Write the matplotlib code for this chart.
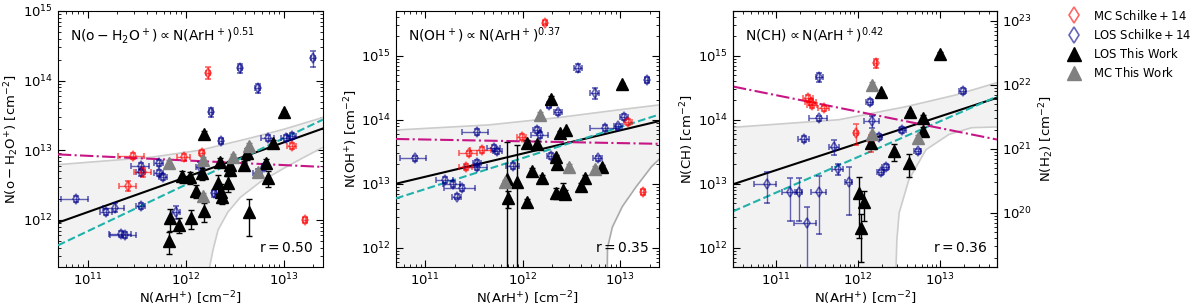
import numpy as np
import matplotlib
matplotlib.use('Agg')
import matplotlib.pyplot as plt
from matplotlib.lines import Line2D
from matplotlib.ticker import NullFormatter

# ---------------- panel 1: o-H2O+ ----------------
# diamonds: N(ArH+), N(X), frac. x err, frac. y err
h2o_los_schilke = [
    (7.7e10, 2.0e12, 0.30, 0.10), (1.56e11, 1.3e12, 0.15, 0.10),
    (1.9e11, 1.5e12, 0.25, 0.15), (2.2e11, 6.2e11, 0.25, 0.10),
    (2.4e11, 6.0e11, 0.30, 0.10), (3.5e11, 1.6e12, 0.10, 0.10),
    (3.5e11, 5.9e12, 0.20, 0.10), (3.5e11, 4.8e12, 0.10, 0.10),
    (5.3e11, 6.5e12, 0.10, 0.10), (5.3e11, 4.7e12, 0.10, 0.10),
    (5.9e11, 4.1e12, 0.10, 0.10), (8.0e11, 1.3e12, 0.10, 0.20),
    (1.8e12, 3.5e13, 0.05, 0.15), (2.3e12, 1.35e13, 0.05, 0.10),
    (1.95e12, 2.4e12, 0.05, 0.10), (1.4e12, 5.7e12, 0.10, 0.20),
    (3.6e12, 1.5e14, 0.05, 0.15), (5.4e12, 7.7e13, 0.05, 0.15),
    (6.9e12, 1.5e13, 0.15, 0.10), (5.4e12, 4.7e12, 0.10, 0.15),
    (6.3e12, 5.7e12, 0.05, 0.10), (1.05e13, 1.5e13, 0.10, 0.10),
    (1.2e13, 1.6e13, 0.10, 0.10), (2.0e13, 2.1e14, 0.05, 0.25),
]
h2o_mc_schilke = [
    (2.6e11, 3.1e12, 0.20, 0.15), (2.9e11, 8.2e12, 0.30, 0.10),
    (3.7e11, 4.9e12, 0.20, 0.15), (9.6e11, 7.9e12, 0.15, 0.10),
    (1.45e12, 9.1e12, 0.05, 0.10), (1.7e12, 1.3e14, 0.05, 0.20),
    (1.2e13, 1.15e13, 0.10, 0.10), (1.65e13, 1.0e12, 0.05, 0.10),
]
# triangles: N(ArH+), N(X), frac. y err
h2o_los_this = [
    (6.8e11, 5.0e11, 0.35), (7.0e11, 1.07e12, 0.35), (8.6e11, 8.5e11, 0.25),
    (9.2e11, 4.2e12, 0.20), (1.14e12, 1.07e12, 0.30), (1.1e12, 4.1e12, 0.20),
    (1.26e12, 2.6e12, 0.20), (1.55e12, 1.35e12, 0.30), (1.55e12, 1.7e13, 0.10),
    (1.45e12, 4.7e12, 0.20), (2.25e12, 6.7e12, 0.15), (2.15e12, 3.4e12, 0.30),
    (2.3e12, 2.5e12, 0.30), (2.35e12, 2.1e12, 0.20), (2.7e12, 3.4e12, 0.25),
    (2.85e12, 6.1e12, 0.15), (2.85e12, 5.2e12, 0.15), (3.9e12, 6.1e12, 0.15),
    (4.2e12, 9.0e12, 0.20), (4.4e12, 1.3e12, 0.55), (6.9e12, 4.0e12, 0.25),
    (7.7e12, 1.26e13, 0.10), (6.6e12, 6.5e12, 0.15), (1.0e13, 3.5e13, 0.05),
]
h2o_mc_this = [
    (6.8e11, 6.5e12, 0.10), (1.5e12, 2.2e12, 0.10), (1.5e12, 7.2e12, 0.10),
    (3.0e12, 7.9e12, 0.10), (4.4e12, 1.15e13, 0.10), (5.5e12, 4.9e12, 0.10),
]
h2o_fit_x = [5e10, 2.5e13]
h2o_fit_black = [9.1e11, 2.05e13]
h2o_fit_cyan = [4.3e11, 2.75e13]
h2o_fit_magenta = [8.7e12, 5.75e12]
h2o_band_up_x = [5e10, 4.4e11, 1.4e12, 4.6e12, 1e13, 2.5e13]
h2o_band_up_y = [6.2e12, 7.9e12, 1e13, 1.5e13, 2e13, 2.95e13]
h2o_band_lo_x = [1.66e12, 1.74e12, 1.9e12, 2.14e12, 2.7e12, 3.6e12, 5.75e12, 1e13, 1.6e13, 2.5e13]
h2o_band_lo_y = [3e10, 2e11, 3.7e11, 7.2e11, 1.3e12, 2.1e12, 3.5e12, 5.5e12, 7.9e12, 1.1e13]

# ---------------- panel 2: OH+ ----------------
oh_los_schilke = [
    (7.9e10, 2.5e13, 0.30, 0.10), (1.6e11, 1.15e13, 0.20, 0.10),
    (1.9e11, 1.0e13, 0.20, 0.10), (2.4e11, 8.7e12, 0.35, 0.10),
    (2.1e11, 6.3e12, 0.10, 0.10), (3.4e11, 6.5e13, 0.30, 0.10),
    (3.4e11, 2.1e13, 0.10, 0.10), (3.4e11, 1.8e13, 0.25, 0.10),
    (5.1e11, 3.6e13, 0.15, 0.10), (5.5e11, 3.2e13, 0.10, 0.10),
    (7.9e11, 1.9e13, 0.15, 0.10), (1.4e12, 6.9e13, 0.10, 0.10),
    (1.5e12, 5.8e13, 0.20, 0.10), (1.85e12, 1.7e14, 0.05, 0.10),
    (2.3e12, 1.3e14, 0.10, 0.10), (1.95e12, 2.7e13, 0.10, 0.10),
    (3.7e12, 6.5e14, 0.10, 0.15), (5.5e12, 2.6e14, 0.10, 0.20),
    (5.9e12, 2.5e13, 0.10, 0.10), (7.0e12, 7.5e13, 0.30, 0.10),
    (9.5e12, 7.9e13, 0.10, 0.10), (1.1e13, 1.1e14, 0.10, 0.10),
    (1.9e13, 4.2e14, 0.05, 0.10),
]
oh_mc_schilke = [
    (2.6e11, 1.85e13, 0.15, 0.10), (2.8e11, 3.0e13, 0.20, 0.10),
    (3.8e11, 3.4e13, 0.25, 0.10), (9.8e11, 5.4e13, 0.10, 0.10),
    (1.7e12, 3.3e15, 0.05, 0.10), (1.2e13, 9.3e13, 0.10, 0.10),
    (1.7e13, 7.5e12, 0.05, 0.10),
]
oh_los_this = [
    (6.9e11, 1.2e13, 2.70), (7.0e11, 6.0e12, 0.30), (8.7e11, 1.05e13, 2.80),
    (1.1e12, 5.2e12, 0.10), (1.1e12, 4.4e13, 0.10), (1.23e12, 1.6e13, 0.10),
    (1.4e12, 4.2e13, 0.10), (1.57e12, 1.24e13, 0.10), (1.95e12, 2.1e14, 0.10),
    (2.2e12, 7.2e12, 0.20), (2.2e12, 2.6e13, 0.10), (2.25e12, 2.0e13, 0.10),
    (2.4e12, 6.3e13, 0.05), (2.6e12, 8.1e12, 0.25), (2.7e12, 7.0e12, 0.15),
    (2.8e12, 6.9e13, 0.05), (4.0e12, 9.3e12, 0.10), (4.3e12, 1.24e13, 0.10),
    (6.5e12, 1.85e13, 0.05), (1.05e13, 3.6e14, 0.05),
]
oh_mc_this = [
    (1.5e12, 1.2e14, 0.10), (6.6e11, 1.05e13, 0.10),
    (2.95e12, 1.85e13, 0.10), (5.5e12, 1.7e13, 0.10),
]
oh_fit_x = [5e10, 2.5e13]
oh_fit_black = [1.0e13, 9.5e13]
oh_fit_cyan = [5.9e12, 1.2e14]
oh_fit_magenta = [5.0e13, 4.2e13]
oh_band_up_x = [5e10, 4.5e11, 2.2e12, 1.05e13, 2.5e13]
oh_band_up_y = [6.9e13, 8.3e13, 1.07e14, 1.45e14, 1.7e14]
oh_band_lo_x = [7.2e12, 7.4e12, 8.3e12, 1.05e13, 1.45e13, 2.1e13, 2.5e13]
oh_band_lo_y = [3e10, 1e12, 2.1e12, 4.4e12, 8.9e12, 1.86e13, 2.4e13]

# ---------------- panel 3: CH ----------------
ch_los_schilke = [
    (7.8e10, 1.0e13, 0.30, 0.50), (1.5e11, 7.5e12, 0.20, 0.65),
    (1.9e11, 7.5e12, 0.10, 0.65), (2.4e11, 2.4e12, 0.30, 0.80),
    (3.4e11, 7.5e12, 0.20, 0.78), (2.2e11, 5.0e13, 0.15, 0.10),
    (3.4e11, 4.6e14, 0.10, 0.15), (3.4e11, 1.05e14, 0.25, 0.10),
    (5.2e11, 3.8e13, 0.15, 0.25), (5.7e11, 1.7e13, 0.15, 0.20),
    (7.8e11, 1.07e13, 0.10, 0.70), (1.4e12, 1.9e14, 0.10, 0.10),
    (1.5e12, 9.4e13, 0.20, 0.20), (1.8e12, 5.4e13, 0.10, 0.10),
    (1.9e12, 1.5e13, 0.10, 0.10), (2.2e12, 1.85e13, 0.10, 0.10),
    (3.5e12, 6.9e13, 0.10, 0.10), (5.4e12, 3.2e13, 0.10, 0.10),
    (1.9e13, 2.8e14, 0.10, 0.10),
]
ch_mc_schilke = [
    (2.5e11, 2.2e14, 0.15, 0.10), (2.7e11, 1.9e14, 0.15, 0.10),
    (2.8e11, 1.7e14, 0.15, 0.10), (3.9e11, 1.5e14, 0.15, 0.10),
    (9.5e11, 6.3e13, 0.05, 0.35), (1.45e12, 4.5e13, 0.05, 0.30),
    (1.65e12, 7.6e14, 0.05, 0.15),
]
ch_los_this = [
    (1.05e12, 7.2e12, 0.80), (1.2e12, 5.2e12, 0.50), (1.1e12, 2.0e12, 0.70),
    (1.45e12, 4.4e13, 0.15), (1.9e12, 2.7e14, 0.05), (2.75e12, 3.2e13, 0.30),
    (4.2e12, 2.1e13, 0.40), (4.4e12, 1.3e14, 0.05), (6.2e12, 1.07e14, 0.10),
    (6.3e12, 6.7e13, 0.15), (1.0e13, 1.07e15, 0.05),
]
ch_mc_this = [
    (1.5e12, 3.5e14, 0.10), (5.5e12, 5.2e13, 0.10), (1.5e12, 5.9e13, 0.10),
]
ch_fit_x = [3e10, 5e13]
ch_fit_black = [9.8e12, 2.2e14]
ch_fit_cyan = [3.7e12, 2.3e14]
ch_fit_magenta = [3.3e14, 4.9e13]
ch_band_up_x = [3e10, 5.9e11, 3.9e12, 1.6e13, 5e13]
ch_band_up_y = [7.6e13, 1e14, 1.6e14, 2.45e14, 3.8e14]
ch_band_lo_x = [2.75e12, 3.0e12, 3.2e12, 4.2e12, 6.8e12, 1.3e13, 2.45e13, 5e13]
ch_band_lo_y = [3e10, 1.3e12, 3.5e12, 1.15e13, 3.4e13, 5.9e13, 7.5e13, 7.7e13]
ch_h2_ratio = 3.5e-8  # N(CH)/N(H2)

RED = 'red'
BLUE = 'darkblue'
FS = 9.5


def draw_diamonds(ax, rows, color):
    d = np.array(rows)
    ax.errorbar(d[:, 0], d[:, 1], xerr=d[:, 0] * d[:, 2], yerr=d[:, 1] * d[:, 3],
                fmt='d', ms=5, mfc='none', mec=color, mew=1.2, ecolor=color,
                elinewidth=1, capsize=2, alpha=0.6, zorder=4)


def draw_triangles(ax, rows, color):
    d = np.array(rows)
    ax.errorbar(d[:, 0], d[:, 1], yerr=d[:, 1] * d[:, 2], fmt='^', ms=9,
                color=color, ecolor=color, elinewidth=1, capsize=2, zorder=5)


def draw_panel(ax, xlim, ylim, up_x, up_y, lo_x, lo_y, lo_color,
               fit_x, black, cyan, magenta, los_s, mc_s, los_t, mc_t,
               text, r_text, ylabel):
    ax.set_xscale('log')
    ax.set_yscale('log')
    # confidence band
    px = list(up_x) + list(lo_x[::-1]) + [xlim[0]]
    py = list(up_y) + list(lo_y[::-1]) + [lo_y[0]]
    ax.fill(px, py, color='#f2f2f2', lw=0, zorder=1)
    ax.plot(up_x, up_y, color='#cccccc', lw=1.2, zorder=2)
    ax.plot(lo_x, lo_y, color=lo_color, lw=1.2, zorder=2)
    # fits
    ax.plot(fit_x, black, color='black', lw=1.5, zorder=3)
    ax.plot(fit_x, cyan, color='#20b2aa', lw=1.5, ls='--', zorder=3)
    ax.plot(fit_x, magenta, color='#c71585', lw=1.5, ls='-.', zorder=3)
    draw_diamonds(ax, los_s, BLUE)
    draw_diamonds(ax, mc_s, RED)
    draw_triangles(ax, los_t, 'black')
    draw_triangles(ax, mc_t, 'gray')
    ax.set_xlim(xlim)
    ax.set_ylim(ylim)
    ax.text(0.045, 0.905, text, transform=ax.transAxes, fontsize=FS + 0.5, va='center')
    ax.text(0.965, 0.075, r_text, transform=ax.transAxes, fontsize=FS + 0.5,
            ha='right', va='center')
    ax.set_xlabel(r'$\rm N(ArH^{+})\ [cm^{-2}]$', fontsize=FS, labelpad=1)
    ax.set_ylabel(ylabel, fontsize=FS, labelpad=1)
    ax.tick_params(which='both', direction='in', top=True, right=True, labelsize=FS)
    ax.tick_params(which='major', length=5)
    ax.tick_params(which='minor', length=2.5)
    ax.xaxis.set_minor_formatter(NullFormatter())
    ax.yaxis.set_minor_formatter(NullFormatter())


fig = plt.figure(figsize=(12, 3.07), dpi=100)
ax1 = fig.add_axes([0.0483, 0.1303, 0.2208, 0.834])
ax2 = fig.add_axes([0.330, 0.1303, 0.2192, 0.834])
ax3 = fig.add_axes([0.6108, 0.1303, 0.220, 0.834])

draw_panel(ax1, (5e10, 2.5e13), (2.1e11, 1e15),
           h2o_band_up_x, h2o_band_up_y, h2o_band_lo_x, h2o_band_lo_y, '#cccccc',
           h2o_fit_x, h2o_fit_black, h2o_fit_cyan, h2o_fit_magenta,
           h2o_los_schilke, h2o_mc_schilke, h2o_los_this, h2o_mc_this,
           r'$\rm N(o-H_2O^+)\propto N(ArH^+)^{0.51}$', r'$\rm r = 0.50$',
           r'$\rm N(o-H_2O^{+})\ [cm^{-2}]$')
draw_panel(ax2, (5e10, 2.5e13), (5e11, 5e15),
           oh_band_up_x, oh_band_up_y, oh_band_lo_x, oh_band_lo_y, '#aaaaaa',
           oh_fit_x, oh_fit_black, oh_fit_cyan, oh_fit_magenta,
           oh_los_schilke, oh_mc_schilke, oh_los_this, oh_mc_this,
           r'$\rm N(OH^+)\propto N(ArH^+)^{0.37}$', r'$\rm r = 0.35$',
           r'$\rm N(OH^{+})\ [cm^{-2}]$')
draw_panel(ax3, (3e10, 5e13), (5e11, 5e15),
           ch_band_up_x, ch_band_up_y, ch_band_lo_x, ch_band_lo_y, '#cccccc',
           ch_fit_x, ch_fit_black, ch_fit_cyan, ch_fit_magenta,
           ch_los_schilke, ch_mc_schilke, ch_los_this, ch_mc_this,
           r'$\rm N(CH)\propto N(ArH^+)^{0.42}$', r'$\rm r = 0.36$',
           r'$\rm N(CH)\ [cm^{-2}]$')
ax3.tick_params(which='both', right=False)

ax3r = ax3.twinx()
ax3r.set_yscale('log')
ax3r.set_ylim(np.array(ax3.get_ylim()) / ch_h2_ratio)
ax3r.tick_params(which='both', direction='in', labelsize=FS)
ax3r.tick_params(which='major', length=5)
ax3r.tick_params(which='minor', length=2.5)
ax3r.yaxis.set_minor_formatter(NullFormatter())
ax3r.set_ylabel(r'$\rm N(H_2)\ [cm^{-2}]$', fontsize=FS, labelpad=4)

handles = [
    Line2D([], [], ls='none', marker='d', ms=8, mfc='none', mec=RED, mew=1.2, alpha=0.6),
    Line2D([], [], ls='none', marker='d', ms=8, mfc='none', mec=BLUE, mew=1.2, alpha=0.6),
    Line2D([], [], ls='none', marker='^', ms=10, color='black'),
    Line2D([], [], ls='none', marker='^', ms=10, color='gray'),
]
labels = [r'$\rm MC\ Schilke+14$', r'$\rm LOS\ Schilke+14$',
          r'$\rm LOS\ This\ Work$', r'$\rm MC\ This\ Work$']
fig.legend(handles, labels, loc='upper left', bbox_to_anchor=(0.884, 0.995),
           frameon=False, fontsize=8.4, handlelength=1.1, handletextpad=1.1,
           labelspacing=0.45, borderaxespad=0.2)

fig.savefig('out.png', dpi=100)
